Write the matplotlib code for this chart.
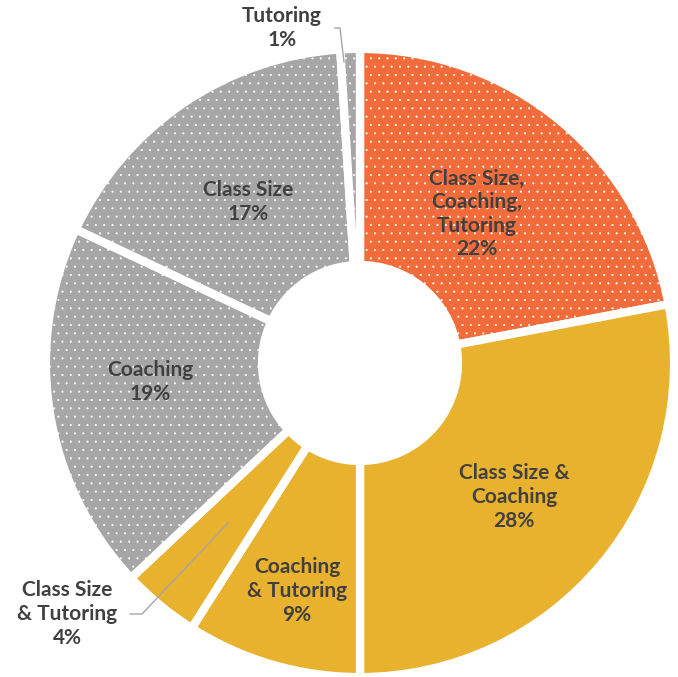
import numpy as np
import matplotlib.pyplot as plt

plt.rcParams['font.family'] = ['Lato', 'DejaVu Sans']
plt.rcParams['hatch.color'] = '#FFFFFFB0'
plt.rcParams['hatch.linewidth'] = 0.3

labels = ['Class Size,\nCoaching,\nTutoring', 'Class Size &\nCoaching', 'Coaching\n& Tutoring',
          'Class Size\n& Tutoring', 'Coaching', 'Class Size', 'Tutoring']
values = [22, 28, 9, 4, 19, 17, 1]
colors = ['#F26B3A', '#E8B12E', '#E8B12E', '#E8B12E', '#A6A6A6', '#A6A6A6', '#A6A6A6']
hatches = ['..', None, None, None, '..', '..', '..']

R = 311.0
cx, cy = 360.0, 363.0

def px(x, y):
    # pixel position -> data coords
    return (x - cx) / R, (cy - y) / R

fig = plt.figure(figsize=(6.78, 6.77), dpi=100)
ax = fig.add_axes([0, 0, 1, 1])
wedges, _ = ax.pie(values, startangle=90, counterclock=False, colors=colors, radius=1.01,
                   wedgeprops=dict(width=0.695, edgecolor='white', linewidth=6))
for w, h in zip(wedges, hatches):
    if h:
        w.set_hatch(h)

ax.set_xlim(-cx / R, (678 - cx) / R)
ax.set_ylim(-(677 - cy) / R, cy / R)
ax.set_aspect('equal')
ax.axis('off')

txt = dict(ha='center', va='center', fontsize=15, fontweight='bold', color='#404040',
           linespacing=1.22)
pos = [(477, 214), (514, 497), (297, 591), (67, 614), (150, 382), (248, 202), (282, 28)]
for lab, v, (x, y) in zip(labels, values, pos):
    ax.text(*px(x, y), f'{lab}\n{v}%', **txt)

lc = '#A6A6A6'
x1, y1 = px(228, 523); x2, y2 = px(142, 614); x3, _ = px(130, 614)
ax.plot([x1, x2, x3], [y1, y2, y2], color=lc, lw=1)
a, b = px(335, 28); c, d = px(340, 28); e, f = px(344, 62)
ax.plot([a, c, e], [b, d, f], color=lc, lw=1)

fig.savefig('out.png', dpi=100)
